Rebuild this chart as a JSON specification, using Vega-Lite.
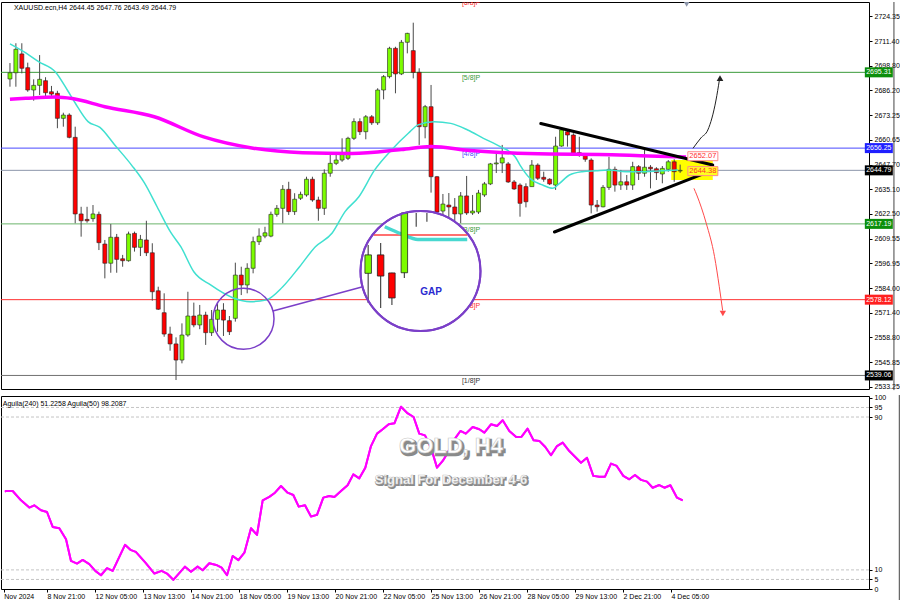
{
  "$schema": "https://vega.github.io/schema/vega-lite/v6.json",
  "background": "white",
  "padding": {"left": 0, "top": 1, "right": 0, "bottom": 0},
  "spacing": 1,
  "config": {
    "view": {"stroke": "#000000", "strokeWidth": 1},
    "font": "Liberation Sans",
    "axis": {"labelFont": "Liberation Sans", "labelFontSize": 7, "labelColor": "#000000", "tickColor": "#000000", "domain": false, "grid": false, "labelOverlap": false, "labelFlush": false},
    "text": {"font": "Liberation Sans"}
  },
  "datasets": {
    "one": [{}],
    "candles": [
      {"i":0,"o":2691.9,"h":2700.1,"l":2687.9,"c":2695.1},
      {"i":1,"o":2695.1,"h":2710.3,"l":2687.9,"c":2707.2},
      {"i":2,"o":2704.8,"h":2710.3,"l":2694.8,"c":2697.4},
      {"i":3,"o":2697.7,"h":2700.3,"l":2685.3,"c":2686.2},
      {"i":4,"o":2686.2,"h":2691.7,"l":2680.7,"c":2688.6},
      {"i":5,"o":2688.6,"h":2704.2,"l":2683.6,"c":2691.7},
      {"i":6,"o":2691.0,"h":2692.8,"l":2682.8,"c":2684.8},
      {"i":7,"o":2685.3,"h":2688.3,"l":2682.8,"c":2684.1},
      {"i":8,"o":2684.5,"h":2685.8,"l":2666.5,"c":2671.6},
      {"i":9,"o":2671.6,"h":2674.5,"l":2667.3,"c":2673.3},
      {"i":10,"o":2673.3,"h":2674.2,"l":2661.3,"c":2661.8},
      {"i":11,"o":2661.8,"h":2667.3,"l":2617.5,"c":2622.3},
      {"i":12,"o":2622.3,"h":2626.0,"l":2610.6,"c":2618.8},
      {"i":13,"o":2619.5,"h":2626.0,"l":2617.8,"c":2618.8},
      {"i":14,"o":2619.9,"h":2626.9,"l":2618.3,"c":2622.3},
      {"i":15,"o":2622.1,"h":2623.5,"l":2603.7,"c":2607.5},
      {"i":16,"o":2606.8,"h":2608.9,"l":2589.1,"c":2596.9},
      {"i":17,"o":2596.9,"h":2617.1,"l":2592.0,"c":2610.3},
      {"i":18,"o":2610.3,"h":2612.0,"l":2592.0,"c":2598.9},
      {"i":19,"o":2599.2,"h":2601.2,"l":2595.1,"c":2598.2},
      {"i":20,"o":2598.2,"h":2613.2,"l":2597.7,"c":2612.0},
      {"i":21,"o":2612.3,"h":2613.2,"l":2602.9,"c":2605.1},
      {"i":22,"o":2605.1,"h":2611.5,"l":2600.6,"c":2609.2},
      {"i":23,"o":2608.9,"h":2618.8,"l":2600.6,"c":2602.3},
      {"i":24,"o":2602.3,"h":2607.2,"l":2577.6,"c":2582.2},
      {"i":25,"o":2582.7,"h":2584.8,"l":2572.8,"c":2573.2},
      {"i":26,"o":2571.4,"h":2581.4,"l":2559.0,"c":2560.4},
      {"i":27,"o":2560.4,"h":2564.2,"l":2551.8,"c":2555.3},
      {"i":28,"o":2555.3,"h":2558.7,"l":2536.7,"c":2547.0},
      {"i":29,"o":2547.0,"h":2565.9,"l":2545.3,"c":2559.9},
      {"i":30,"o":2559.9,"h":2582.2,"l":2559.0,"c":2569.7},
      {"i":31,"o":2569.7,"h":2576.6,"l":2563.9,"c":2565.1},
      {"i":32,"o":2565.1,"h":2575.4,"l":2562.9,"c":2570.2},
      {"i":33,"o":2570.2,"h":2571.9,"l":2554.8,"c":2561.1},
      {"i":34,"o":2561.1,"h":2572.8,"l":2559.4,"c":2568.0},
      {"i":35,"o":2568.0,"h":2576.3,"l":2561.6,"c":2572.8},
      {"i":36,"o":2572.8,"h":2576.3,"l":2559.4,"c":2567.6},
      {"i":37,"o":2567.3,"h":2569.7,"l":2559.9,"c":2561.6},
      {"i":38,"o":2568.5,"h":2597.2,"l":2566.8,"c":2590.8},
      {"i":39,"o":2590.8,"h":2595.1,"l":2580.5,"c":2585.7},
      {"i":40,"o":2585.7,"h":2596.9,"l":2581.4,"c":2594.3},
      {"i":41,"o":2594.3,"h":2610.6,"l":2591.7,"c":2608.0},
      {"i":42,"o":2608.0,"h":2614.9,"l":2606.3,"c":2610.9},
      {"i":43,"o":2610.9,"h":2615.7,"l":2609.8,"c":2612.6},
      {"i":44,"o":2610.9,"h":2623.5,"l":2610.3,"c":2622.1},
      {"i":45,"o":2622.1,"h":2626.9,"l":2620.9,"c":2625.2},
      {"i":46,"o":2625.2,"h":2637.2,"l":2617.5,"c":2635.0},
      {"i":47,"o":2635.0,"h":2638.9,"l":2621.8,"c":2623.5},
      {"i":48,"o":2623.5,"h":2633.0,"l":2621.8,"c":2629.9},
      {"i":49,"o":2630.4,"h":2633.8,"l":2629.5,"c":2632.4},
      {"i":50,"o":2632.1,"h":2641.5,"l":2631.2,"c":2640.2},
      {"i":51,"o":2640.2,"h":2641.5,"l":2628.6,"c":2629.5},
      {"i":52,"o":2629.5,"h":2631.2,"l":2618.8,"c":2625.2},
      {"i":53,"o":2625.2,"h":2645.3,"l":2621.8,"c":2643.3},
      {"i":54,"o":2643.3,"h":2653.6,"l":2641.5,"c":2648.4},
      {"i":55,"o":2648.4,"h":2653.6,"l":2647.5,"c":2650.1},
      {"i":56,"o":2650.1,"h":2661.3,"l":2649.2,"c":2653.6},
      {"i":57,"o":2651.0,"h":2662.1,"l":2650.1,"c":2661.3},
      {"i":58,"o":2661.3,"h":2671.6,"l":2660.4,"c":2669.9},
      {"i":59,"o":2669.9,"h":2671.6,"l":2663.0,"c":2664.7},
      {"i":60,"o":2664.7,"h":2673.3,"l":2660.8,"c":2672.4},
      {"i":61,"o":2672.4,"h":2673.3,"l":2668.2,"c":2669.3},
      {"i":62,"o":2669.3,"h":2687.1,"l":2668.2,"c":2686.2},
      {"i":63,"o":2686.2,"h":2693.9,"l":2681.4,"c":2693.1},
      {"i":64,"o":2693.1,"h":2708.5,"l":2692.2,"c":2707.7},
      {"i":65,"o":2707.7,"h":2708.5,"l":2684.5,"c":2694.5},
      {"i":66,"o":2694.5,"h":2712.0,"l":2693.9,"c":2710.8},
      {"i":67,"o":2710.8,"h":2715.7,"l":2705.1,"c":2715.4},
      {"i":68,"o":2706.5,"h":2720.9,"l":2692.2,"c":2695.3},
      {"i":69,"o":2695.3,"h":2697.4,"l":2657.9,"c":2667.3},
      {"i":70,"o":2667.3,"h":2678.5,"l":2661.3,"c":2677.6},
      {"i":71,"o":2677.6,"h":2688.8,"l":2633.3,"c":2641.5},
      {"i":72,"o":2641.5,"h":2641.9,"l":2621.3,"c":2623.3},
      {"i":73,"o":2623.8,"h":2632.6,"l":2620.2,"c":2627.4},
      {"i":74,"o":2626.9,"h":2633.1,"l":2620.7,"c":2625.9},
      {"i":75,"o":2625.9,"h":2630.5,"l":2618.2,"c":2622.3},
      {"i":76,"o":2622.3,"h":2633.6,"l":2617.6,"c":2631.6},
      {"i":77,"o":2631.6,"h":2641.9,"l":2621.8,"c":2622.8},
      {"i":78,"o":2622.8,"h":2632.1,"l":2621.8,"c":2623.8},
      {"i":79,"o":2623.3,"h":2634.7,"l":2622.3,"c":2633.1},
      {"i":80,"o":2632.1,"h":2638.8,"l":2631.1,"c":2637.8},
      {"i":81,"o":2637.8,"h":2648.6,"l":2637.2,"c":2648.1},
      {"i":82,"o":2648.1,"h":2653.7,"l":2643.4,"c":2648.6},
      {"i":83,"o":2648.6,"h":2657.9,"l":2643.4,"c":2651.2},
      {"i":84,"o":2648.1,"h":2649.1,"l":2638.3,"c":2638.8},
      {"i":85,"o":2638.8,"h":2639.8,"l":2634.7,"c":2635.2},
      {"i":86,"o":2637.2,"h":2638.1,"l":2620.9,"c":2627.8},
      {"i":87,"o":2636.4,"h":2638.1,"l":2625.7,"c":2628.6},
      {"i":88,"o":2636.4,"h":2650.1,"l":2636.4,"c":2647.5},
      {"i":89,"o":2647.5,"h":2648.4,"l":2639.8,"c":2640.7},
      {"i":90,"o":2641.2,"h":2644.1,"l":2638.9,"c":2640.2},
      {"i":91,"o":2640.2,"h":2640.7,"l":2637.2,"c":2637.8},
      {"i":92,"o":2637.2,"h":2662.1,"l":2634.7,"c":2657.3},
      {"i":93,"o":2657.3,"h":2665.9,"l":2657.0,"c":2665.6},
      {"i":94,"o":2664.7,"h":2665.6,"l":2657.0,"c":2663.0},
      {"i":95,"o":2663.0,"h":2663.9,"l":2652.7,"c":2653.6},
      {"i":96,"o":2653.9,"h":2662.1,"l":2651.8,"c":2653.2},
      {"i":97,"o":2652.7,"h":2653.6,"l":2649.2,"c":2650.5},
      {"i":98,"o":2650.1,"h":2651.0,"l":2622.6,"c":2626.9},
      {"i":99,"o":2626.9,"h":2629.5,"l":2623.5,"c":2626.0},
      {"i":100,"o":2626.0,"h":2637.2,"l":2625.7,"c":2636.0},
      {"i":101,"o":2636.0,"h":2651.8,"l":2634.7,"c":2645.3},
      {"i":102,"o":2645.3,"h":2646.7,"l":2633.8,"c":2637.2},
      {"i":103,"o":2637.2,"h":2645.0,"l":2634.7,"c":2638.9},
      {"i":104,"o":2638.9,"h":2642.4,"l":2634.7,"c":2637.2},
      {"i":105,"o":2637.2,"h":2649.2,"l":2634.7,"c":2646.7},
      {"i":106,"o":2646.7,"h":2647.5,"l":2639.8,"c":2643.3},
      {"i":107,"o":2643.3,"h":2655.6,"l":2641.5,"c":2646.4},
      {"i":108,"o":2646.4,"h":2647.5,"l":2635.5,"c":2645.6},
      {"i":109,"o":2645.6,"h":2646.4,"l":2639.8,"c":2643.6},
      {"i":110,"o":2642.9,"h":2647.0,"l":2638.1,"c":2645.8},
      {"i":111,"o":2645.3,"h":2650.1,"l":2644.1,"c":2649.2},
      {"i":112,"o":2649.2,"h":2650.5,"l":2638.9,"c":2644.1},
      {"i":113,"o":2644.45,"h":2647.76,"l":2643.49,"c":2644.79}
    ],
    "ma21": [
      {"i":0,"p":2710.0},{"i":2.67,"p":2705.3},{"i":4.83,"p":2700.8},{"i":7.67,"p":2695.5},
      {"i":9.67,"p":2686.2},{"i":11,"p":2679.5},{"i":13.17,"p":2669.9},{"i":15.17,"p":2666.9},
      {"i":17.67,"p":2657.85},{"i":20.5,"p":2647.5},{"i":22.67,"p":2638.3},{"i":24.83,"p":2625.9},
      {"i":27.17,"p":2612.5},{"i":28.83,"p":2605.3},{"i":31,"p":2592.5},{"i":33.83,"p":2585.7},
      {"i":37.67,"p":2579.0},{"i":40.5,"p":2577.1},{"i":43.17,"p":2577.95},{"i":46,"p":2584.8},
      {"i":48.83,"p":2595.1},{"i":51.5,"p":2605.4},{"i":54.33,"p":2612.5},{"i":56.5,"p":2623.5},
      {"i":58.83,"p":2631.2},{"i":61.5,"p":2645.0},{"i":64.33,"p":2655.3},{"i":67.17,"p":2663.9},
      {"i":68.83,"p":2668.2},{"i":71.5,"p":2669.9},{"i":74.33,"p":2669.0},{"i":77.17,"p":2665.6},
      {"i":79.83,"p":2661.3},{"i":82.67,"p":2657.0},{"i":85.17,"p":2651.8},{"i":86,"p":2647.5},
      {"i":87.67,"p":2640.7},{"i":89.83,"p":2637.2},{"i":91.5,"p":2635.5},{"i":92.67,"p":2638.1},
      {"i":94.33,"p":2642.4},{"i":96.5,"p":2644.1},{"i":98.83,"p":2644.6},{"i":101,"p":2645.0},
      {"i":103.83,"p":2644.1},{"i":106.5,"p":2644.1},{"i":109.33,"p":2644.45},{"i":112.67,"p":2645.0}
    ],
    "ma200": [
      {"i":0,"p":2681.4},{"i":2.67,"p":2681.9},{"i":7.67,"p":2682.6},{"i":10.5,"p":2681.8},
      {"i":16,"p":2677.6},{"i":24.33,"p":2672.4},{"i":32.67,"p":2662.0},{"i":41,"p":2656.2},
      {"i":49.33,"p":2653.9},{"i":57.67,"p":2653.5},{"i":66,"p":2655.5},{"i":71,"p":2657.1},
      {"i":77.67,"p":2655.0},{"i":82.67,"p":2654.0},{"i":91,"p":2653.2},{"i":99.33,"p":2653.0},
      {"i":107.67,"p":2652.2},{"i":114,"p":2651.7}
    ],
    "levels": [
      {"name":"6/8","p":2734.37,"label":"[6/8]P"},
      {"name":"5/8","p":2695.31,"label":"[5/8]P"},
      {"name":"4/8","p":2656.25,"label":"[4/8]P"},
      {"name":"cur","p":2644.79,"label":""},
      {"name":"3/8","p":2617.19,"label":"[3/8]P"},
      {"name":"2/8","p":2578.12,"label":"[2/8]P"},
      {"name":"1/8","p":2539.06,"label":"[1/8]P"}
    ],
    "rbox": [
      {"name":"5/8","p":2695.31},
      {"name":"4/8","p":2656.25},
      {"name":"cur","p":2644.79},
      {"name":"3/8","p":2617.19},
      {"name":"2/8","p":2578.12},
      {"name":"1/8","p":2539.06}
    ],
    "tri": [
      {"seg":"u","i":89.5,"p":2668.9},{"seg":"u","i":118.5,"p":2647.5},
      {"seg":"l","i":91.8,"p":2613.0},{"seg":"l","i":117.2,"p":2643.4}
    ],
    "arrowUp": [
      {"i":115.17,"p":2656.15},{"i":116.5,"p":2661.5},{"i":117.67,"p":2665.6},
      {"i":119.05,"p":2681.05},{"i":119.62,"p":2691.4}
    ],
    "arrowDown": [
      {"i":115.33,"p":2635.5},{"i":115.8,"p":2632.1},{"i":117.4,"p":2617.5},
      {"i":118.8,"p":2600.3},{"i":119.6,"p":2584.8},{"i":120.17,"p":2572.5}
    ],
    "link": [
      {"i":44.33,"p":2572.3},{"i":59.33,"p":2584.65}
    ],
    "mag": [
      {"i":60.4,"o":2591.7,"h":2606.3,"l":2576.4,"c":2601.2},
      {"i":62.5,"o":2601.2,"h":2607.3,"l":2573.8,"c":2590.3},
      {"i":64.4,"o":2591.9,"h":2592.0,"l":2575.4,"c":2579.0},
      {"i":66.5,"o":2592.0,"h":2622.8,"l":2589.3,"c":2622.8},
      {"i":68.5,"o":null,"h":2622.8,"l":2615.7,"c":null},
      {"i":70.3,"o":null,"h":2622.8,"l":2618.3,"c":null}
    ],
    "magRed": [{"i":61.3,"p":2611.5},{"i":77.1,"p":2611.5}],
    "magCyan": [{"i":63.2,"p":2615.7},{"i":66,"p":2612.0},{"i":68.8,"p":2609.2},{"i":77.1,"p":2609.2}],
    "aguila": [
      {"i":0,"v":50.9},{"i":0.17,"v":51.3},{"i":1.28,"v":51.3},{"i":2.67,"v":46.4},{"i":4.05,"v":42.6},
      {"i":4.88,"v":43.8},{"i":6,"v":41.2},{"i":7,"v":40.3},{"i":7.95,"v":32.5},{"i":9.05,"v":31.8},
      {"i":10.17,"v":26.0},{"i":11,"v":14.7},{"i":12,"v":13.3},{"i":12.95,"v":15.2},{"i":14.05,"v":13.0},
      {"i":15.05,"v":9.5},{"i":16,"v":7.2},{"i":17,"v":10.9},{"i":17.95,"v":9.5},{"i":20,"v":23.1},
      {"i":20.9,"v":20.5},{"i":21.8,"v":19.4},{"i":23.4,"v":13.8},{"i":24.9,"v":8.1},{"i":26.1,"v":9.5},
      {"i":27,"v":8.1},{"i":28.05,"v":4.8},{"i":30,"v":11.7},{"i":31,"v":9.0},{"i":32.1,"v":11.7},
      {"i":32.95,"v":9.8},{"i":34.05,"v":13.5},{"i":35.2,"v":12.6},{"i":36.1,"v":11.2},{"i":37,"v":7.2},
      {"i":37.95,"v":17.3},{"i":38.9,"v":15.1},{"i":39.9,"v":19.0},{"i":41,"v":31.8},{"i":42,"v":28.3},
      {"i":42.95,"v":46.4},{"i":44.05,"v":48.2},{"i":45,"v":50.4},{"i":46,"v":53.9},{"i":47.1,"v":50.4},
      {"i":48.05,"v":49.2},{"i":48.95,"v":43.1},{"i":50,"v":43.8},{"i":51,"v":37.9},{"i":52,"v":38.8},
      {"i":53.05,"v":47.8},{"i":54.05,"v":48.7},{"i":54.9,"v":48.2},{"i":56,"v":51.3},{"i":57.1,"v":54.3},
      {"i":58.05,"v":60.0},{"i":59.05,"v":57.9},{"i":60.05,"v":63.5},{"i":61,"v":74.8},{"i":62,"v":81.3},
      {"i":62.95,"v":83.6},{"i":63.95,"v":86.2},{"i":64.9,"v":86.7},{"i":66,"v":95.4},{"i":67,"v":92.2},
      {"i":68.1,"v":90.0},{"i":69.05,"v":81.3},{"i":70,"v":80.4},{"i":71,"v":73.9},{"i":72,"v":63.5},
      {"i":72.95,"v":67.0},{"i":73.8,"v":71.3},{"i":74.3,"v":74.8},{"i":74.9,"v":78.3},{"i":75.9,"v":82.7},
      {"i":76.8,"v":81.3},{"i":77.95,"v":84.8},{"i":79.05,"v":83.6},{"i":79.9,"v":81.8},{"i":81,"v":86.2},
      {"i":82,"v":85.3},{"i":82.95,"v":88.3},{"i":84.05,"v":82.7},{"i":85.2,"v":79.5},{"i":86.1,"v":79.7},
      {"i":87.1,"v":83.9},{"i":88.1,"v":77.8},{"i":89.05,"v":77.5},{"i":90.05,"v":74.3},{"i":91,"v":70.0},
      {"i":92,"v":74.8},{"i":92.95,"v":76.6},{"i":94.05,"v":72.2},{"i":95,"v":69.2},{"i":96,"v":66.1},
      {"i":97,"v":68.7},{"i":98.05,"v":59.2},{"i":99.05,"v":58.8},{"i":100,"v":58.8},{"i":101,"v":65.6},
      {"i":101.95,"v":64.4},{"i":103.05,"v":59.2},{"i":104.05,"v":57.4},{"i":105,"v":59.7},{"i":106,"v":57.1},
      {"i":107,"v":56.2},{"i":107.95,"v":53.0},{"i":109.05,"v":54.4},{"i":109.9,"v":53.0},{"i":110.9,"v":54.3},
      {"i":112,"v":47.8},{"i":112.95,"v":46.4}
    ],
    "dashes": [{"v":95},{"v":90},{"v":10},{"v":5}]
  },
  "vconcat": [
    {
      "width": 868,
      "height": 387,
      "resolve": {"scale": {"color": "independent", "fill": "independent", "stroke": "independent"}},
      "layer": [
        {
          "data": {"name": "levels"},
          "mark": {"type": "rule", "strokeWidth": 1, "clip": true},
          "encoding": {
            "y": {"field": "p", "type": "quantitative", "title": null, "scale": {"domain": [2532.07, 2731.57], "nice": false, "zero": false},
              "axis": {"orient": "right", "title": null, "format": ".2f", "tickSize": 3, "labelPadding": 2, "labelOverlap": false, "labelFontSize": 7, "tickCount": 200,
                "values": [2724.35, 2711.40, 2698.80, 2686.20, 2673.25, 2660.65, 2647.70, 2635.10, 2622.50, 2609.55, 2596.95, 2584.00, 2571.40, 2558.80, 2545.85, 2533.25]}},
            "stroke": {"field": "name", "type": "nominal", "legend": null,
              "scale": {"domain": ["6/8", "5/8", "4/8", "cur", "3/8", "2/8", "1/8"], "range": ["#ff3030", "#3a9a3a", "#4848ff", "#8c96aa", "#6cb46c", "#ff3030", "#707070"]}}
          }
        },
        {
          "data": {"name": "one"},
          "mark": {"type": "rect", "color": "#ffff00"},
          "encoding": {
            "x": {"datum": 111.5, "type": "quantitative", "title": null, "scale": {"domain": [-0.667, 144], "nice": false, "zero": false}, "axis": null},
            "x2": {"datum": 118.5},
            "y": {"datum": 2650.1, "type": "quantitative", "title": null, "scale": {"domain": [2532.07, 2731.57], "nice": false, "zero": false}},
            "y2": {"datum": 2639.8}
          }
        },
        {
          "data": {"name": "levels"},
          "transform": [{"filter": "datum.label != ''"}],
          "mark": {"type": "text", "align": "left", "baseline": "top", "dy": 2, "fontSize": 7, "clip": true},
          "encoding": {
            "x": {"datum": 76.2, "type": "quantitative", "title": null, "scale": {"domain": [-0.667, 144], "nice": false, "zero": false}, "axis": null},
            "y": {"field": "p", "type": "quantitative", "title": null, "scale": {"domain": [2532.07, 2731.57], "nice": false, "zero": false}},
            "text": {"field": "label"},
            "fill": {"field": "name", "type": "nominal", "legend": null,
              "scale": {"domain": ["6/8", "5/8", "4/8", "3/8", "2/8", "1/8"], "range": ["#ff3030", "#3a9a3a", "#4848ff", "#3a9a3a", "#ff3030", "#333333"]}}
          }
        },
        {
          "data": {"name": "candles"},
          "mark": {"type": "rule", "color": "#4a4a4a", "strokeWidth": 1},
          "encoding": {
            "x": {"field": "i", "type": "quantitative", "title": null, "scale": {"domain": [-0.667, 144], "nice": false, "zero": false}, "axis": null},
            "y": {"field": "l", "type": "quantitative", "title": null, "scale": {"domain": [2532.07, 2731.57], "nice": false, "zero": false}},
            "y2": {"field": "h"}
          }
        },
        {
          "data": {"name": "candles"},
          "mark": {"type": "bar", "size": 4, "stroke": "#222222", "strokeWidth": 0.6},
          "encoding": {
            "x": {"field": "i", "type": "quantitative", "title": null, "scale": {"domain": [-0.667, 144], "nice": false, "zero": false}, "axis": null},
            "y": {"field": "o", "type": "quantitative", "title": null, "scale": {"domain": [2532.07, 2731.57], "nice": false, "zero": false}},
            "y2": {"field": "c"},
            "fill": {"condition": {"test": "datum.c >= datum.o", "value": "#7cfc00"}, "value": "#ff0000"}
          }
        },
        {
          "data": {"name": "ma21"},
          "mark": {"type": "line", "color": "#40e0d0", "strokeWidth": 1.5, "interpolate": "monotone", "strokeJoin": "round", "clip": true},
          "encoding": {
            "x": {"field": "i", "type": "quantitative", "title": null, "scale": {"domain": [-0.667, 144], "nice": false, "zero": false}, "axis": null},
            "y": {"field": "p", "type": "quantitative", "title": null, "scale": {"domain": [2532.07, 2731.57], "nice": false, "zero": false}}
          }
        },
        {
          "data": {"name": "ma200"},
          "mark": {"type": "line", "color": "#ff00ff", "strokeWidth": 3.5, "interpolate": "monotone", "strokeJoin": "round", "clip": true},
          "encoding": {
            "x": {"field": "i", "type": "quantitative", "title": null, "scale": {"domain": [-0.667, 144], "nice": false, "zero": false}, "axis": null},
            "y": {"field": "p", "type": "quantitative", "title": null, "scale": {"domain": [2532.07, 2731.57], "nice": false, "zero": false}}
          }
        },
        {
          "data": {"name": "tri"},
          "mark": {"type": "line", "color": "#000000", "strokeWidth": 3, "strokeCap": "round", "strokeJoin": "round"},
          "encoding": {
            "x": {"field": "i", "type": "quantitative", "title": null, "scale": {"domain": [-0.667, 144], "nice": false, "zero": false}, "axis": null},
            "y": {"field": "p", "type": "quantitative", "title": null, "scale": {"domain": [2532.07, 2731.57], "nice": false, "zero": false}},
            "detail": {"field": "seg", "type": "nominal"}
          }
        },
        {
          "data": {"name": "arrowUp"},
          "mark": {"type": "line", "color": "#222222", "strokeWidth": 1, "interpolate": "monotone", "strokeJoin": "round"},
          "encoding": {
            "x": {"field": "i", "type": "quantitative", "title": null, "scale": {"domain": [-0.667, 144], "nice": false, "zero": false}, "axis": null},
            "y": {"field": "p", "type": "quantitative", "title": null, "scale": {"domain": [2532.07, 2731.57], "nice": false, "zero": false}}
          }
        },
        {
          "data": {"name": "arrowDown"},
          "mark": {"type": "line", "color": "#ff4a4a", "strokeWidth": 1, "interpolate": "monotone", "strokeJoin": "round"},
          "encoding": {
            "x": {"field": "i", "type": "quantitative", "title": null, "scale": {"domain": [-0.667, 144], "nice": false, "zero": false}, "axis": null},
            "y": {"field": "p", "type": "quantitative", "title": null, "scale": {"domain": [2532.07, 2731.57], "nice": false, "zero": false}}
          }
        },
        {
          "data": {"name": "one"},
          "mark": {"type": "point", "shape": "triangle-up", "size": 45, "filled": true, "color": "#222222", "opacity": 1},
          "encoding": {
            "x": {"datum": 119.72, "type": "quantitative", "title": null, "scale": {"domain": [-0.667, 144], "nice": false, "zero": false}, "axis": null},
            "y": {"datum": 2692.3, "type": "quantitative", "title": null, "scale": {"domain": [2532.07, 2731.57], "nice": false, "zero": false}}
          }
        },
        {
          "data": {"name": "one"},
          "mark": {"type": "point", "shape": "triangle-down", "size": 40, "filled": true, "color": "#ff4a4a", "opacity": 1},
          "encoding": {
            "x": {"datum": 120.2, "type": "quantitative", "title": null, "scale": {"domain": [-0.667, 144], "nice": false, "zero": false}, "axis": null},
            "y": {"datum": 2571.0, "type": "quantitative", "title": null, "scale": {"domain": [2532.07, 2731.57], "nice": false, "zero": false}}
          }
        },
        {
          "data": {"name": "one"},
          "mark": {"type": "tick", "orient": "horizontal", "size": 30, "thickness": 9, "fill": "#ffffff", "stroke": "#ff8a8a", "strokeWidth": 1, "opacity": 1},
          "encoding": {
            "x": {"datum": 116.83, "type": "quantitative", "title": null, "scale": {"domain": [-0.667, 144], "nice": false, "zero": false}, "axis": null},
            "y": {"datum": 2652.07, "type": "quantitative", "title": null, "scale": {"domain": [2532.07, 2731.57], "nice": false, "zero": false}}
          }
        },
        {
          "data": {"name": "one"},
          "mark": {"type": "tick", "orient": "horizontal", "size": 30, "thickness": 9, "fill": "#ffff20", "stroke": "#ff8a8a", "strokeWidth": 1, "opacity": 1},
          "encoding": {
            "x": {"datum": 116.83, "type": "quantitative", "title": null, "scale": {"domain": [-0.667, 144], "nice": false, "zero": false}, "axis": null},
            "y": {"datum": 2644.38, "type": "quantitative", "title": null, "scale": {"domain": [2532.07, 2731.57], "nice": false, "zero": false}}
          }
        },
        {
          "data": {"name": "one"},
          "mark": {"type": "text", "text": "2652.07", "fontSize": 7.5, "color": "#ff3030", "align": "center", "baseline": "middle"},
          "encoding": {
            "x": {"datum": 116.83, "type": "quantitative", "title": null, "scale": {"domain": [-0.667, 144], "nice": false, "zero": false}, "axis": null},
            "y": {"datum": 2652.07, "type": "quantitative", "title": null, "scale": {"domain": [2532.07, 2731.57], "nice": false, "zero": false}}
          }
        },
        {
          "data": {"name": "one"},
          "mark": {"type": "text", "text": "2644.38", "fontSize": 7.5, "color": "#ff3030", "align": "center", "baseline": "middle"},
          "encoding": {
            "x": {"datum": 116.83, "type": "quantitative", "title": null, "scale": {"domain": [-0.667, 144], "nice": false, "zero": false}, "axis": null},
            "y": {"datum": 2644.38, "type": "quantitative", "title": null, "scale": {"domain": [2532.07, 2731.57], "nice": false, "zero": false}}
          }
        },
        {
          "data": {"name": "link"},
          "mark": {"type": "line", "color": "#7b3fc8", "strokeWidth": 1.5},
          "encoding": {
            "x": {"field": "i", "type": "quantitative", "title": null, "scale": {"domain": [-0.667, 144], "nice": false, "zero": false}, "axis": null},
            "y": {"field": "p", "type": "quantitative", "title": null, "scale": {"domain": [2532.07, 2731.57], "nice": false, "zero": false}}
          }
        },
        {
          "data": {"name": "one"},
          "mark": {"type": "point", "shape": "circle", "size": 3721, "filled": false, "stroke": "#7b3fc8", "strokeWidth": 1.5, "opacity": 1},
          "encoding": {
            "x": {"datum": 39.38, "type": "quantitative", "title": null, "scale": {"domain": [-0.667, 144], "nice": false, "zero": false}, "axis": null},
            "y": {"datum": 2568.26, "type": "quantitative", "title": null, "scale": {"domain": [2532.07, 2731.57], "nice": false, "zero": false}}
          }
        },
        {
          "data": {"name": "one"},
          "mark": {"type": "point", "shape": "circle", "size": 14400, "filled": true, "fill": "#ffffff", "stroke": "#7b3fc8", "strokeWidth": 2, "opacity": 1},
          "encoding": {
            "x": {"datum": 69.22, "type": "quantitative", "title": null, "scale": {"domain": [-0.667, 144], "nice": false, "zero": false}, "axis": null},
            "y": {"datum": 2592.9, "type": "quantitative", "title": null, "scale": {"domain": [2532.07, 2731.57], "nice": false, "zero": false}}
          }
        },
        {
          "data": {"name": "magRed"},
          "mark": {"type": "line", "color": "#ff4040", "strokeWidth": 1.5},
          "encoding": {
            "x": {"field": "i", "type": "quantitative", "title": null, "scale": {"domain": [-0.667, 144], "nice": false, "zero": false}, "axis": null},
            "y": {"field": "p", "type": "quantitative", "title": null, "scale": {"domain": [2532.07, 2731.57], "nice": false, "zero": false}}
          }
        },
        {
          "data": {"name": "magCyan"},
          "mark": {"type": "line", "color": "#48d8d0", "strokeWidth": 3.5, "interpolate": "monotone", "strokeJoin": "round"},
          "encoding": {
            "x": {"field": "i", "type": "quantitative", "title": null, "scale": {"domain": [-0.667, 144], "nice": false, "zero": false}, "axis": null},
            "y": {"field": "p", "type": "quantitative", "title": null, "scale": {"domain": [2532.07, 2731.57], "nice": false, "zero": false}}
          }
        },
        {
          "data": {"name": "mag"},
          "mark": {"type": "rule", "color": "#4a4a4a", "strokeWidth": 1.2},
          "encoding": {
            "x": {"field": "i", "type": "quantitative", "title": null, "scale": {"domain": [-0.667, 144], "nice": false, "zero": false}, "axis": null},
            "y": {"field": "l", "type": "quantitative", "title": null, "scale": {"domain": [2532.07, 2731.57], "nice": false, "zero": false}},
            "y2": {"field": "h"}
          }
        },
        {
          "data": {"name": "mag"},
          "transform": [{"filter": "isValid(datum.o)"}],
          "mark": {"type": "bar", "size": 6.5, "stroke": "#222222", "strokeWidth": 0.8},
          "encoding": {
            "x": {"field": "i", "type": "quantitative", "title": null, "scale": {"domain": [-0.667, 144], "nice": false, "zero": false}, "axis": null},
            "y": {"field": "o", "type": "quantitative", "title": null, "scale": {"domain": [2532.07, 2731.57], "nice": false, "zero": false}},
            "y2": {"field": "c"},
            "fill": {"condition": {"test": "datum.c >= datum.o", "value": "#7cfc00"}, "value": "#ff0000"}
          }
        },
        {
          "data": {"name": "one"},
          "mark": {"type": "point", "shape": "circle", "size": 14400, "filled": false, "stroke": "#7b3fc8", "strokeWidth": 2, "opacity": 1},
          "encoding": {
            "x": {"datum": 69.22, "type": "quantitative", "title": null, "scale": {"domain": [-0.667, 144], "nice": false, "zero": false}, "axis": null},
            "y": {"datum": 2592.9, "type": "quantitative", "title": null, "scale": {"domain": [2532.07, 2731.57], "nice": false, "zero": false}}
          }
        },
        {
          "data": {"name": "one"},
          "mark": {"type": "text", "text": "GAP", "fontSize": 10, "fontWeight": "bold", "font": "Liberation Sans", "color": "#2a2ad0", "align": "center", "baseline": "middle"},
          "encoding": {
            "x": {"datum": 71, "type": "quantitative", "title": null, "scale": {"domain": [-0.667, 144], "nice": false, "zero": false}, "axis": null},
            "y": {"datum": 2582.2, "type": "quantitative", "title": null, "scale": {"domain": [2532.07, 2731.57], "nice": false, "zero": false}}
          }
        },
        {
          "data": {"name": "one"},
          "mark": {"type": "text", "text": "XAUUSD.ecn,H4  2644.45 2647.76 2643.49 2644.79", "fontSize": 7, "color": "#000000", "align": "left", "baseline": "middle"},
          "encoding": {
            "x": {"datum": 0.67, "type": "quantitative", "title": null, "scale": {"domain": [-0.667, 144], "nice": false, "zero": false}, "axis": null},
            "y": {"datum": 2728.3, "type": "quantitative", "title": null, "scale": {"domain": [2532.07, 2731.57], "nice": false, "zero": false}}
          }
        },
        {
          "data": {"name": "rbox"},
          "mark": {"type": "tick", "orient": "horizontal", "size": 28, "thickness": 10, "opacity": 1},
          "encoding": {
            "x": {"datum": 146.5, "type": "quantitative", "title": null, "scale": {"domain": [-0.667, 144], "nice": false, "zero": false}, "axis": null},
            "y": {"field": "p", "type": "quantitative", "title": null, "scale": {"domain": [2532.07, 2731.57], "nice": false, "zero": false}},
            "fill": {"field": "name", "type": "nominal", "legend": null,
              "scale": {"domain": ["5/8", "4/8", "cur", "3/8", "2/8", "1/8"], "range": ["#0b8f0b", "#1f1fff", "#000000", "#0b8f0b", "#ff2020", "#000000"]}}
          }
        },
        {
          "data": {"name": "rbox"},
          "mark": {"type": "text", "fontSize": 7, "color": "#ffffff", "align": "center", "baseline": "middle"},
          "encoding": {
            "x": {"datum": 146.5, "type": "quantitative", "title": null, "scale": {"domain": [-0.667, 144], "nice": false, "zero": false}, "axis": null},
            "y": {"field": "p", "type": "quantitative", "title": null, "scale": {"domain": [2532.07, 2731.57], "nice": false, "zero": false}},
            "text": {"field": "p", "type": "quantitative", "format": ".2f"}
          }
        },
        {
          "data": {"name": "one"},
          "mark": {"type": "point", "shape": "triangle-down", "size": 40, "filled": true, "color": "#8c96aa", "opacity": 1, "clip": true},
          "encoding": {
            "x": {"datum": 114.1, "type": "quantitative", "title": null, "scale": {"domain": [-0.667, 144], "nice": false, "zero": false}, "axis": null},
            "y": {"datum": 2730.5, "type": "quantitative", "title": null, "scale": {"domain": [2532.07, 2731.57], "nice": false, "zero": false}}
          }
        },
        {
          "data": {"name": "one"},
          "mark": {"type": "rule", "color": "#444444", "strokeWidth": 1},
          "encoding": {
            "x": {"datum": 149.05, "type": "quantitative", "title": null, "scale": {"domain": [-0.667, 144], "nice": false, "zero": false}, "axis": null},
            "y": {"datum": 2731.57, "type": "quantitative", "title": null, "scale": {"domain": [2532.07, 2731.57], "nice": false, "zero": false}},
            "y2": {"datum": 2531.5}
          }
        }
      ]
    },
    {
      "width": 868,
      "height": 193,
      "layer": [
        {
          "data": {"name": "aguila"},
          "mark": {"type": "line", "color": "#ff00ff", "strokeWidth": 2, "strokeJoin": "round"},
          "encoding": {
            "x": {"field": "i", "type": "quantitative", "title": null, "scale": {"domain": [-0.667, 144], "nice": false, "zero": false},
              "axis": {"orient": "bottom", "title": null, "labelOverlap": false, "labelFontSize": 7, "tickCount": 200, "values": [-0.2, 7, 15, 23, 31, 39, 47, 55, 63, 71, 79, 87, 95, 103, 111],
                "labelExpr": "datum.value < 1 ? 'Nov 2024' : ['8 Nov 21:00','12 Nov 05:00','13 Nov 13:00','14 Nov 21:00','18 Nov 05:00','19 Nov 13:00','20 Nov 21:00','22 Nov 05:00','25 Nov 13:00','26 Nov 21:00','28 Nov 05:00','29 Nov 13:00','2 Dec 21:00','4 Dec 05:00'][round((datum.value-7)/8)]",
                "labelAlign": "left", "labelBaseline": "top", "tickSize": 3, "labelPadding": 0}},
            "y": {"field": "v", "type": "quantitative", "title": null, "scale": {"domain": [0, 101], "nice": false, "zero": false},
              "axis": {"orient": "right", "title": null, "format": "d", "labelOverlap": false, "labelFontSize": 7, "tickCount": 200, "values": [0, 5, 10, 90, 95, 100], "tickSize": 3, "labelPadding": 2}}
          }
        },
        {
          "data": {"name": "dashes"},
          "mark": {"type": "rule", "color": "#c4c4c4", "strokeWidth": 1, "strokeDash": [3, 2]},
          "encoding": {
            "y": {"field": "v", "type": "quantitative", "title": null, "scale": {"domain": [0, 101], "nice": false, "zero": false}}
          }
        },
        {
          "data": {"name": "aguila"},
          "mark": {"type": "line", "color": "#ff00ff", "strokeWidth": 2, "strokeJoin": "round"},
          "encoding": {
            "x": {"field": "i", "type": "quantitative", "title": null, "scale": {"domain": [-0.667, 144], "nice": false, "zero": false}},
            "y": {"field": "v", "type": "quantitative", "title": null, "scale": {"domain": [0, 101], "nice": false, "zero": false}}
          }
        },
        {
          "data": {"name": "one"},
          "mark": {"type": "text", "text": "Aguila(240) 51.2258  Aguila(50) 98.2087", "fontSize": 7, "color": "#000000", "align": "left", "baseline": "middle"},
          "encoding": {
            "x": {"datum": -0.38, "type": "quantitative", "title": null, "scale": {"domain": [-0.667, 144], "nice": false, "zero": false}},
            "y": {"datum": 96.6, "type": "quantitative", "title": null, "scale": {"domain": [0, 101], "nice": false, "zero": false}}
          }
        },
        {
          "data": {"name": "one"},
          "mark": {"type": "text", "text": "GOLD, H4", "fontSize": 22, "fontWeight": "bold", "font": "Liberation Sans", "fill": "#8a8a8a", "stroke": "#8a8a8a", "strokeWidth": 2.5, "align": "center", "baseline": "middle", "dx": 1.5, "dy": 1.5},
          "encoding": {
            "x": {"datum": 74.33, "type": "quantitative", "title": null, "scale": {"domain": [-0.667, 144], "nice": false, "zero": false}},
            "y": {"datum": 74.8, "type": "quantitative", "title": null, "scale": {"domain": [0, 101], "nice": false, "zero": false}}
          }
        },
        {
          "data": {"name": "one"},
          "mark": {"type": "text", "text": "GOLD, H4", "fontSize": 22, "fontWeight": "bold", "font": "Liberation Sans", "fill": "#ffffff", "stroke": "#c8c8c8", "strokeWidth": 0.6, "align": "center", "baseline": "middle"},
          "encoding": {
            "x": {"datum": 74.33, "type": "quantitative", "title": null, "scale": {"domain": [-0.667, 144], "nice": false, "zero": false}},
            "y": {"datum": 74.8, "type": "quantitative", "title": null, "scale": {"domain": [0, 101], "nice": false, "zero": false}}
          }
        },
        {
          "data": {"name": "one"},
          "mark": {"type": "text", "text": "Signal For December 4-6", "fontSize": 13, "fontWeight": "bold", "font": "Liberation Sans", "fill": "#8a8a8a", "stroke": "#8a8a8a", "strokeWidth": 2, "align": "center", "baseline": "middle", "dx": 1, "dy": 1},
          "encoding": {
            "x": {"datum": 74.33, "type": "quantitative", "title": null, "scale": {"domain": [-0.667, 144], "nice": false, "zero": false}},
            "y": {"datum": 56.9, "type": "quantitative", "title": null, "scale": {"domain": [0, 101], "nice": false, "zero": false}}
          }
        },
        {
          "data": {"name": "one"},
          "mark": {"type": "text", "text": "Signal For December 4-6", "fontSize": 13, "fontWeight": "bold", "font": "Liberation Sans", "fill": "#ffffff", "stroke": "#c8c8c8", "strokeWidth": 0.5, "align": "center", "baseline": "middle"},
          "encoding": {
            "x": {"datum": 74.33, "type": "quantitative", "title": null, "scale": {"domain": [-0.667, 144], "nice": false, "zero": false}},
            "y": {"datum": 56.9, "type": "quantitative", "title": null, "scale": {"domain": [0, 101], "nice": false, "zero": false}}
          }
        },
        {
          "data": {"name": "one"},
          "mark": {"type": "rule", "color": "#444444", "strokeWidth": 1},
          "encoding": {
            "x": {"datum": 149.05, "type": "quantitative", "title": null, "scale": {"domain": [-0.667, 144], "nice": false, "zero": false}},
            "y": {"datum": 101.5, "type": "quantitative", "title": null, "scale": {"domain": [0, 101], "nice": false, "zero": false}},
            "y2": {"datum": -7.8}
          }
        },
        {
          "data": {"name": "one"},
          "mark": {"type": "rule", "color": "#444444", "strokeWidth": 1},
          "encoding": {
            "x": {"datum": -0.5, "type": "quantitative", "title": null, "scale": {"domain": [-0.667, 144], "nice": false, "zero": false}},
            "x2": {"datum": 149.05},
            "y": {"datum": -7.8, "type": "quantitative", "title": null, "scale": {"domain": [0, 101], "nice": false, "zero": false}}
          }
        }
      ]
    }
  ]
}
